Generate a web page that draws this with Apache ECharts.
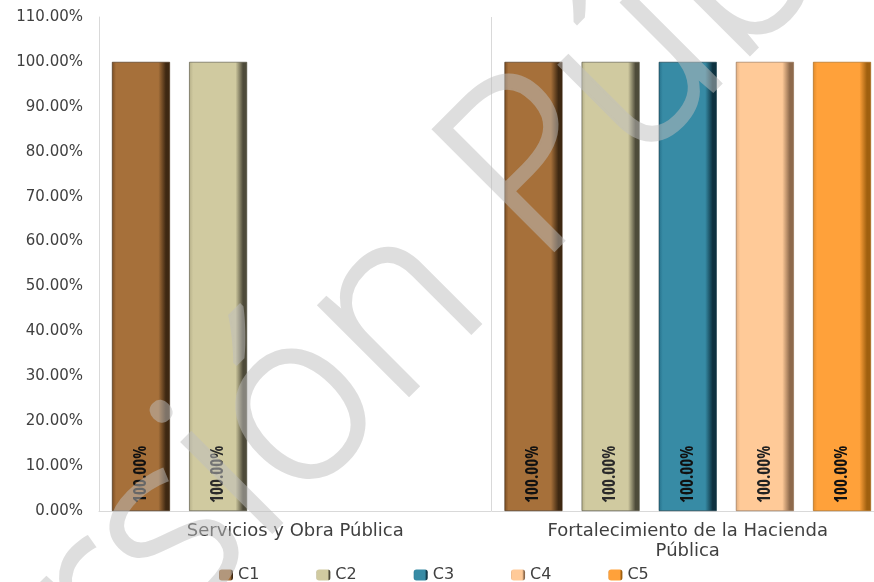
<!DOCTYPE html>
<html><head><meta charset="utf-8">
<script src="https://cdn.jsdelivr.net/npm/echarts@6/dist/echarts.min.js"></script>
<style>html,body{margin:0;padding:0;background:#fff;overflow:hidden;width:874px;height:582px}#c{width:884px;height:582px}</style>
</head><body><div id="c"></div>
<script>
var categories = ['Servicios y Obra Pública', 'Fortalecimiento de la Hacienda\nPública'];
var seriesNames = ['C1', 'C2', 'C3', 'C4', 'C5'];
var C1 = [100, 100];
var C2 = [100, 100];
var C3 = ['-', 100];
var C4 = ['-', 100];
var C5 = ['-', 100];
var yTicks = [0, 10, 20, 30, 40, 50, 60, 70, 80, 90, 100, 110];
var watermark = 'Versión Pública';

var values = [C1, C2, C3, C4, C5];
var palette = [
  {edge:'#7a4c22', main:'#a6703a', dark:'#3e2812', lab:'#111111'},
  {edge:'#b5af88', main:'#d0caa0', dark:'#4e4b3a', lab:'#2a2a2a'},
  {edge:'#25708a', main:'#378ba5', dark:'#0e3240', lab:'#111111'},
  {edge:'#e0ae80', main:'#ffca98', dark:'#8e6a4c', lab:'#222222'},
  {edge:'#e08a2a', main:'#ffa13a', dark:'#a0600f', lab:'#111111'}
];
function grad(p){
  return new echarts.graphic.LinearGradient(0,0,1,0,[
    {offset:0,color:p.edge},{offset:0.07,color:p.main},{offset:0.8,color:p.main},
    {offset:0.93,color:p.dark},{offset:1,color:p.dark}]);
}
var series = seriesNames.map(function(n,i){
  return {
    name:n, type:'bar', data:values[i], barWidth:58, barGap:'33%',
    itemStyle:{color:grad(palette[i]), borderColor:palette[i].dark, borderWidth:0.6},
    label:{show:true, rotate:90, position:'insideBottom', distance:8, align:'left', verticalAlign:'middle',
      formatter:function(p){return p.value.toFixed(2)+'%';},
      fontFamily:'Open Sans', fontWeight:'bold condensed', fontSize:17, color:palette[i].lab}
  };
});

var chart = echarts.init(document.getElementById('c'));
var fs = 238;
var wmFont = '300 ' + fs + 'px "Open Sans"';
var ctx = document.createElement('canvas').getContext('2d');
ctx.font = wmFont;
ctx.textBaseline = 'middle';
var pre = ctx.measureText('Versión ').width + 0.13*fs;
var mid = ctx.measureText('P').actualBoundingBoxDescent;
var s = Math.SQRT1_2;
var px = 560, py = 245;
var ox = px - pre*s - mid*s;
var oy = py + pre*s - mid*s;

chart.setOption({
  animation:false,
  backgroundColor:'#fff',
  grid:{left:99, right:0, top:17, bottom:71},
  legend:{data:seriesNames, top:562, left:214, itemWidth:14, itemHeight:11, itemGap:57,
    itemStyle:{borderWidth:0},
    textStyle:{fontFamily:'DejaVu Sans', fontSize:16, color:'#404040'}},
  xAxis:{type:'category', data:categories,
    axisLine:{lineStyle:{color:'#d9d9d9'}}, axisTick:{show:false},
    splitLine:{show:true, lineStyle:{color:'#d9d9d9'}},
    axisLabel:{fontFamily:'DejaVu Sans', fontSize:18, color:'#404040', margin:10, lineHeight:20, interval:0}},
  yAxis:{type:'value', min:0, max:110, interval:10,
    axisLine:{show:true, lineStyle:{color:'#d9d9d9'}}, axisTick:{show:false}, splitLine:{show:false},
    axisLabel:{fontFamily:'DejaVu Sans', fontSize:15, color:'#404040', margin:16,
      formatter:function(v){return yTicks.indexOf(v)>=0 ? v.toFixed(2)+'%' : '';}}},
  series:series,
  graphic:[{type:'text', x:ox, y:oy, rotation:Math.PI/4, zlevel:1, z:100, silent:true,
    style:{text:watermark, font:wmFont, fill:'#bebebe', stroke:'#bebebe', lineWidth:4,
      textAlign:'left', textVerticalAlign:'middle'}}]
});
try {
  var layer = chart.getZr().painter.getLayer(1);
  layer.dom.style.opacity = '0.5';
} catch (e) {
  var cvs = document.querySelectorAll('#c canvas');
  if (cvs.length > 1) cvs[cvs.length-1].style.opacity = '0.5';
}
</script></body></html>
